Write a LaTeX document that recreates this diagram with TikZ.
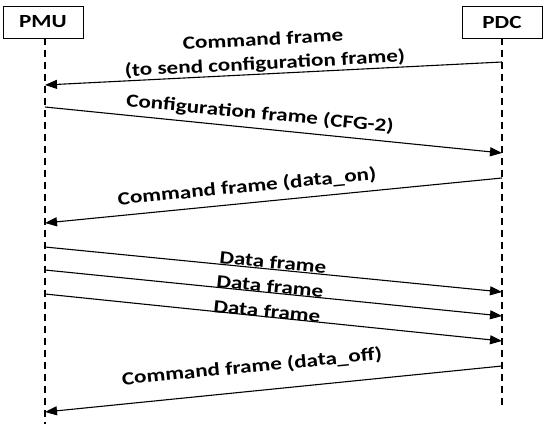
\documentclass[tikz,border=0pt]{standalone}
\usepackage{fontspec}
\newfontfamily\lblfont[FakeStretch=1.25]{Carlito}
\usetikzlibrary{arrows.meta}
\begin{document}
\begin{tikzpicture}[x=1pt,y=1pt,
  actor/.style={draw,line width=0.9pt,minimum width=80pt,minimum height=32pt,inner sep=0pt,font=\lblfont\fontsize{18.5}{21}\selectfont\bfseries},
  life/.style={line width=1.1pt,dash pattern=on 7pt off 5pt},
  msg/.style={line width=1.1pt,-{Triangle[length=12pt,width=9pt]}},
  lbl/.style={font=\lblfont\fontsize{18.5}{21}\selectfont\bfseries,inner sep=0pt,align=center}]
\useasboundingbox (0,0) rectangle (550,-428);
\node[actor] (pmu) at (43,-22) {PMU};
\node[actor] (pdc) at (502,-22) {PDC};
\coordinate (pmuend) at (45,-424);
\coordinate (pdcend) at (502,-406);
\draw[life] (pmu.south -| pmuend) -- (pmuend);
\draw[life] (pdc.south) -- (pdcend);
% message end points
\coordinate (d1) at (502,-62);  \coordinate (m1) at (45,-85);
\coordinate (m2) at (45,-107);  \coordinate (d2) at (502,-153);
\coordinate (d3) at (502,-178); \coordinate (m3) at (45,-223);
\coordinate (m4) at (45,-247);  \coordinate (d4) at (502,-292);
\coordinate (m5) at (45,-270);  \coordinate (d5) at (502,-316);
\coordinate (m6) at (45,-294);  \coordinate (d6) at (502,-341);
\coordinate (d7) at (502,-366); \coordinate (m7) at (45,-412);
\draw[msg] (d1) -- (m1);
\draw[msg] (m2) -- (d2);
\draw[msg] (d3) -- (m3);
\draw[msg] (m4) -- (d4);
\draw[msg] (m5) -- (d5);
\draw[msg] (m6) -- (d6);
\draw[msg] (d7) -- (m7);
% labels
\node[lbl,rotate=3] (l1a) at (263,-39) {Command frame};
\node[lbl,rotate=3] (l1b) at (265,-64) {(to send configuration frame)};
\node[lbl,rotate=-5.6] (l2) at (260,-114) {Configuration frame (CFG-2)};
\node[lbl,rotate=5.6] (l3) at (247,-187) {Command frame (data\_on)};
\node[lbl,rotate=-5.6] (l4) at (273,-262) {Data frame};
\node[lbl,rotate=-5.6] (l5) at (270,-286) {Data frame};
\node[lbl,rotate=-5.6] (l6) at (267,-311) {Data frame};
\node[lbl,rotate=5.6] (l7) at (252,-367) {Command frame (data\_off)};
\end{tikzpicture}
\end{document}
